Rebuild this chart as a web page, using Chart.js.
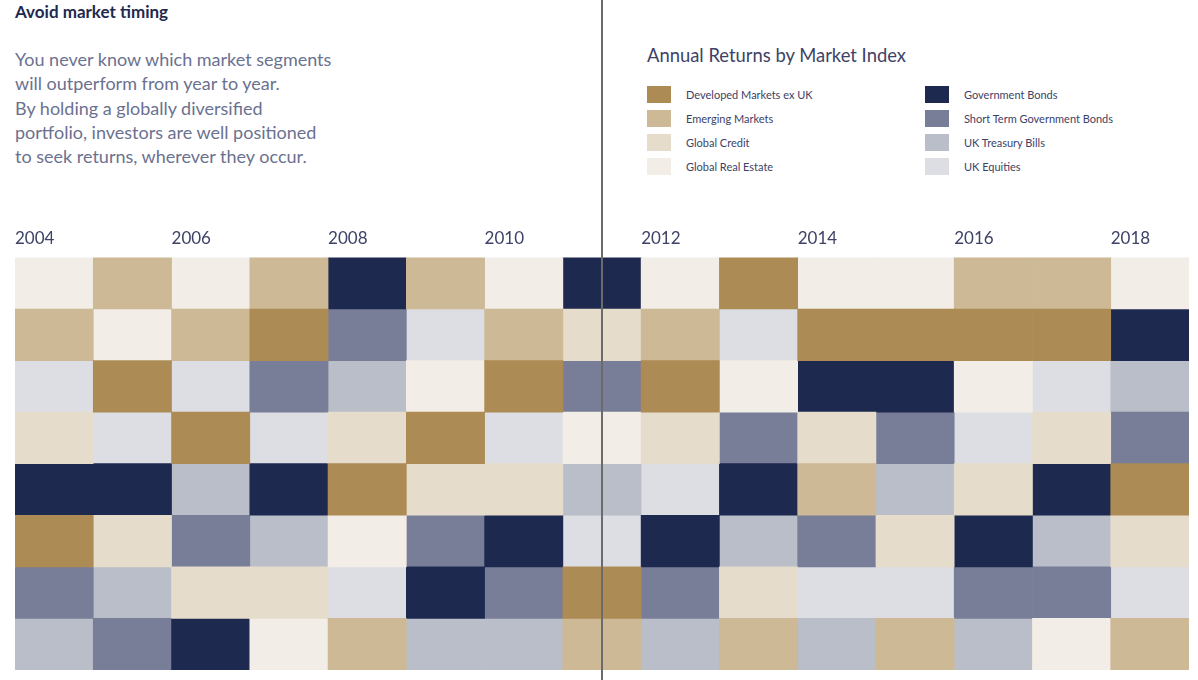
<!DOCTYPE html>
<html>
<head>
<meta charset="utf-8">
<script src="https://cdn.jsdelivr.net/npm/chart.js@4.4.1/dist/chart.umd.min.js"></script>
<style>
  body { margin: 0; background: #fff; font-family: Lato, "Open Sans", sans-serif; }
  #page { position: relative; width: 1198px; height: 680px; overflow: hidden; }
  #title { position: absolute; left: 15px; top: 1px; font-size: 17px; font-weight: 700; color: #1e294f; }
  #intro { position: absolute; left: 15px; top: 47px; font-size: 18px; line-height: 24.3px; color: #6b7190; }
  #legendTitle { position: absolute; left: 647px; top: 44px; font-size: 18.4px; color: #3d4266; }
  .lg { position: absolute; font-size: 11px; color: #3d4266; height: 17px; line-height: 17px; }
  .lg i { position: absolute; left: 0; top: 0; width: 24px; height: 17px; }
  .lg span { position: absolute; left: 39px; white-space: nowrap; }
  #chartBox { position: absolute; left: 0; top: 227px; width: 1198px; height: 453px; }
  #divider { position: absolute; left: 601px; top: 0; width: 2px; height: 680px; background: #6b6b6b; }
</style>
</head>
<body>
<div id="page">
  <div id="title">Avoid market timing</div>
  <div id="intro">You never know which market segments<br>will outperform from year to year.<br>By holding a globally diversified<br>portfolio, investors are well positioned<br>to seek returns, wherever they occur.</div>
  <div id="legendTitle">Annual Returns by Market Index</div>
  <div id="legend"></div>
  <div id="chartBox"><canvas id="grid"></canvas></div>
  <div id="divider"></div>
</div>
<script>
// years shown as columns
const years = ['2004','2005','2006','2007','2008','2009','2010','2011','2012','2013','2014','2015','2016','2017','2018'];

// rank of each index per year (1 = best return)
const developedExUK   = [6,3,4,2,5,4,3,7,3,1,2,2,2,2,5];
const emergingMarkets = [2,1,2,1,8,1,2,8,2,8,5,8,1,1,8];
const globalCredit    = [4,6,7,7,4,5,5,2,4,7,4,6,5,4,6];
const globalRealEst   = [1,2,1,8,6,3,1,4,1,3,1,1,3,8,1];
const govBonds        = [5,5,8,5,1,7,6,1,6,5,3,3,6,5,2];
const shortGovBonds   = [7,8,6,3,2,6,7,3,7,4,6,4,7,7,4];
const ukTreasuryBills = [8,7,5,6,3,8,8,5,8,6,8,5,8,6,3];
const ukEquities      = [3,4,3,4,7,2,4,6,5,2,7,7,4,3,7];

const indexNames = ['Developed Markets ex UK','Emerging Markets','Global Credit','Global Real Estate',
  'Government Bonds','Short Term Government Bonds','UK Treasury Bills','UK Equities'];
const indexRanks = [developedExUK, emergingMarkets, globalCredit, globalRealEst,
  govBonds, shortGovBonds, ukTreasuryBills, ukEquities];
const indexColors = ['#ad8b55','#cdb995','#e5dccb','#f2ede6','#1e294f','#787e97','#b9bec9','#dddee3'];

// legend, two columns of four
const legend = document.getElementById('legend');
indexNames.forEach((name, i) => {
  const col = Math.floor(i / 4), row = i % 4;
  const el = document.createElement('div');
  el.className = 'lg';
  el.style.left = (col ? 925 : 647) + 'px';
  el.style.top = (86 + row * 24) + 'px';
  el.innerHTML = '<i style="background:' + indexColors[i] + '"></i><span>' + name + '</span>';
  legend.appendChild(el);
});

const colW = 1174 / years.length;

new Chart(document.getElementById('grid'), {
  type: 'bar',
  data: {
    labels: years,
    datasets: indexNames.map((name, i) => ({
      label: name,
      data: indexRanks[i].map(r => [r - 1, r]),
      backgroundColor: indexColors[i],
      borderWidth: 0,
      barPercentage: 1,
      categoryPercentage: 1,
      grouped: false
    }))
  },
  options: {
    responsive: true,
    maintainAspectRatio: false,
    animation: false,
    layout: { padding: { left: 15, right: 9, top: 0, bottom: 10 } },
    plugins: { legend: { display: false }, tooltip: { enabled: false } },
    scales: {
      x: {
        position: 'top',
        grid: { display: false },
        border: { display: false },
        ticks: {
          autoSkip: false,
          maxRotation: 0,
          align: 'start',
          labelOffset: -colW / 2,
          padding: 1,
          color: '#3d4266',
          font: { family: 'Lato', size: 17 },
          callback: (v, i) => (i % 2 === 0 ? years[i] : '')
        }
      },
      y: {
        display: false,
        reverse: true,
        min: 0,
        max: 8
      }
    }
  }
});
</script>
</body>
</html>
